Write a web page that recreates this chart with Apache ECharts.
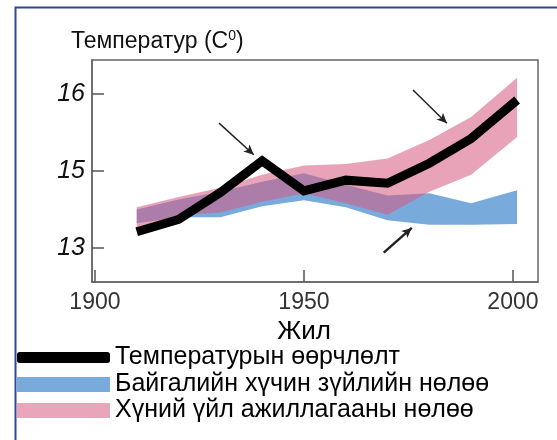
<!DOCTYPE html>
<html lang="mn">
<head>
  <meta charset="utf-8">
</head>
<body style="margin: 0">
<div id="container" style="width: 557px; height: 440px"></div>
<script type="text/javascript" src="https://cdn.jsdelivr.net/npm/echarts@6/dist/echarts.min.js"></script>
<script type="text/javascript">
  // decade points (last one sits a bit past 2000)
  var years = [1910, 1920, 1930, 1940, 1950, 1960, 1970, 1980, 1990, 2001];
  var tempLine = [14.21, 14.37, 14.72, 15.13, 14.74, 14.88, 14.84, 15.10, 15.42, 15.92];
  var pinkUpper = [14.53, 14.66, 14.78, 14.95, 15.07, 15.09, 15.16, 15.40, 15.70, 16.21];
  var pinkLower = [14.27, 14.42, 14.46, 14.60, 14.71, 14.58, 14.43, 14.73, 14.95, 15.44];
  var blueUpper = [14.50, 14.63, 14.73, 14.86, 14.97, 14.82, 14.68, 14.71, 14.58, 14.75];
  var blueLower = [14.32, 14.40, 14.40, 14.54, 14.62, 14.53, 14.36, 14.30, 14.30, 14.31];
  var xTicks = [1900, 1950, 2000];
  var yTicks = [14, 15, 16];
  var yTickLabels = ['13', '15', '16']; // as printed on the original
  // annotation arrows: [from, to] in data units
  var arrows = [
    [[1929.7, 15.62], [1938.0, 15.21]],
    [[1976.1, 16.05], [1984.2, 15.62]],
    [[1969.1, 13.94], [1975.8, 14.26]]
  ];
  var names = ['Температурын өөрчлөлт', 'Байгалийн хүчин зүйлийн нөлөө', 'Хүний үйл ажиллагааны нөлөө'];

  var font = 'Liberation Sans, Arial, sans-serif';
  var blue = '#78aadc';
  var pinkFill = 'rgba(213, 87, 125, 0.55)';
  var pinkLegend = '#e9a5ba';

  function bandRows(lower, upper) {
    return years.map(function (y, i) { return [y, lower[i], upper[i]]; });
  }

  // one polygon per band: upper edge left->right, lower edge back
  function bandRenderer(fill) {
    return function (params, api) {
      if (params.dataIndex !== 0) return;
      var n = params.dataInsideLength;
      var top = [], bottom = [];
      for (var i = 0; i < n; i++) {
        top.push(api.coord([api.value(0, i), api.value(2, i)]));
        bottom.unshift(api.coord([api.value(0, i), api.value(1, i)]));
      }
      return {
        type: 'polygon',
        shape: { points: top.concat(bottom) },
        style: { fill: fill }
      };
    };
  }

  var dom = document.getElementById('container');
  var myChart = echarts.init(dom, null, { renderer: 'canvas' });

  var option = {
    animation: false,
    graphic: [{
      type: 'rect',
      left: 13,
      top: 5,
      silent: true,
      z: -10,
      shape: { width: 560, height: 450 },
      style: { fill: 'none', stroke: '#2c4a8c', lineWidth: 2 }
    }],
    title: {
      text: 'Температур (C{s|0})',
      left: 71,
      top: 29,
      padding: 0,
      textStyle: {
        fontFamily: font,
        fontSize: 23,
        fontWeight: 'normal',
        color: '#111',
        rich: {
          s: { fontFamily: font, fontSize: 14, color: '#111', padding: [0, 0, 11, 0] }
        }
      }
    },
    grid: {
      left: 92,
      top: 60,
      right: 19,
      bottom: 158,
      containLabel: false,
      outerBoundsMode: 'none',
      show: true,
      borderColor: '#666',
      borderWidth: 1.5
    },
    legend: [{
      data: [{ name: names[0], icon: 'roundRect', itemStyle: { color: '#000' } }],
      left: 17,
      top: 345,
      padding: 0,
      itemWidth: 93,
      itemHeight: 11,
      selectedMode: false,
      textStyle: { fontFamily: font, fontSize: 25, color: '#000' }
    }, {
      data: [
        { name: names[1], icon: 'rect', itemStyle: { color: blue } },
        { name: names[2], icon: 'rect', itemStyle: { color: pinkLegend } }
      ],
      orient: 'vertical',
      left: 17,
      top: 372,
      padding: 0,
      itemWidth: 93,
      itemHeight: 15,
      itemGap: 1,
      selectedMode: false,
      textStyle: { fontFamily: font, fontSize: 25, color: '#000' }
    }],
    xAxis: {
      type: 'value',
      min: 1899.3,
      max: 2006,
      name: 'Жил',
      nameLocation: 'middle',
      nameGap: 37,
      nameTextStyle: { fontFamily: font, fontSize: 26, color: '#000', padding: [0, 22, 0, 0] },
      axisLine: { show: true, lineStyle: { color: '#666', width: 1.5 } },
      axisTick: { show: true, inside: true, length: 12, customValues: xTicks, lineStyle: { color: '#555', width: 1.5 } },
      axisLabel: {
        customValues: xTicks,
        margin: 9,
        fontFamily: font,
        fontSize: 23,
        color: '#333',
        formatter: function (v) { return String(v); }
      },
      splitLine: { show: false }
    },
    yAxis: {
      type: 'value',
      min: 13.558,
      max: 16.44,
      axisLine: { show: true, lineStyle: { color: '#666', width: 1.5 } },
      axisTick: { show: true, inside: true, length: 12, customValues: yTicks, lineStyle: { color: '#555', width: 1.5 } },
      axisLabel: {
        customValues: yTicks,
        margin: 7,
        fontFamily: font,
        fontSize: 25,
        fontStyle: 'italic',
        color: '#111',
        formatter: function (v) { return yTickLabels[yTicks.indexOf(Math.round(v))]; }
      },
      splitLine: { show: false }
    },
    series: [
      {
        name: names[1],
        type: 'custom',
        renderItem: bandRenderer(blue),
        data: bandRows(blueLower, blueUpper),
        encode: { x: 0, y: [1, 2] },
        itemStyle: { color: blue },
        silent: true,
        z: 1
      },
      {
        name: names[2],
        type: 'custom',
        renderItem: bandRenderer(pinkFill),
        data: bandRows(pinkLower, pinkUpper),
        encode: { x: 0, y: [1, 2] },
        itemStyle: { color: pinkLegend },
        silent: true,
        z: 2
      },
      {
        name: names[0],
        type: 'line',
        data: years.map(function (y, i) { return [y, tempLine[i]]; }),
        symbol: 'none',
        itemStyle: { color: '#000' },
        lineStyle: { color: '#000', width: 9, join: 'miter' },
        z: 3,
        markLine: {
          silent: true,
          symbol: ['none', 'arrow'],
          symbolSize: [7, 10],
          label: { show: false },
          lineStyle: { color: '#222', width: 1.5, type: 'solid' },
          data: arrows.map(function (a, i) {
            return [
              { coord: a[0], lineStyle: { width: i === 2 ? 2.5 : 1.5 } },
              { coord: a[1] }
            ];
          })
        }
      }
    ]
  };

  myChart.setOption(option);
  window.addEventListener('resize', myChart.resize);
</script>
</body>
</html>
